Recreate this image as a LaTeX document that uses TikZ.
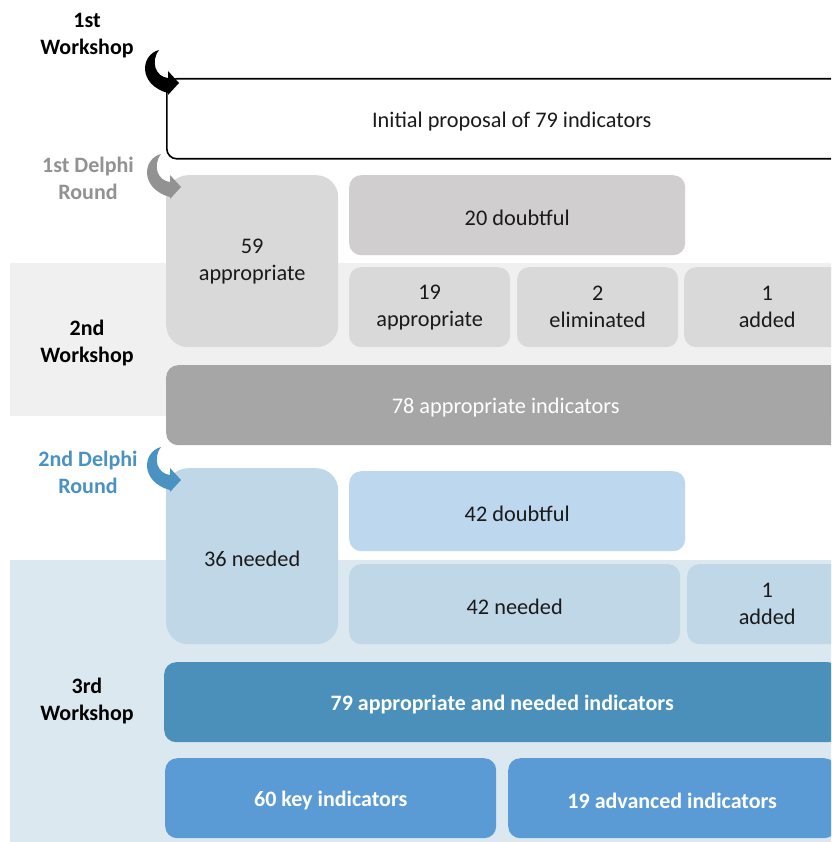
\documentclass[tikz,border=0pt]{standalone}
\usepackage{fontspec}
\setmainfont{Carlito}
\definecolor{bandgray}{HTML}{F0F0F0}
\definecolor{bandblue}{HTML}{DBE8F0}
\definecolor{gA}{HTML}{D9D9D9}
\definecolor{gB}{HTML}{D0CECE}
\definecolor{gC}{HTML}{A6A6A6}
\definecolor{bA}{HTML}{BFD7E6}
\definecolor{bB}{HTML}{BDD7EE}
\definecolor{bC}{HTML}{4A90BB}
\definecolor{bD}{HTML}{5B9BD5}
\definecolor{lgray}{HTML}{929292}
\definecolor{lblue}{HTML}{4A92C2}
\definecolor{txt}{HTML}{1A1A1A}
\tikzset{
  box/.style={rounded corners=12pt, minimum height=80pt, inner sep=0pt, align=center,
    font=\fontsize{22.3}{27}\selectfont, text=txt, anchor=north west,
    execute at begin node={\rule{0pt}{20.5pt}}},
  bigbox/.style={box, rounded corners=22pt},
  whitebold/.style={text=white, font=\fontsize{22}{27}\selectfont\bfseries},
  lbl/.style={align=center, font=\fontsize{22}{27}\selectfont\bfseries, yshift=-2pt},
  pics/curvarr/.style={code={
    \path[pic actions] (-20,-33) .. controls (-39,-28) and (-41,2) .. (-11,10)
      -- (-11,12) -- (0,0) -- (-11,-12) -- (-11,-5)
      .. controls (-23,-6) and (-29,-21) .. (-20,-33) -- cycle;
  }}
}
\begin{document}
\begin{tikzpicture}[x=1pt,y=-1pt]
\clip (0,0) rectangle (831,842);
\fill[white] (0,0) rectangle (831,842);
% bands
\fill[bandgray] (10,263) rectangle (840,416);
\fill[bandblue] (10,560) rectangle (840,850);

% labels
\node[lbl] (w1) at (87,33.5) {1st\\Workshop};
\node[lbl, text=lgray] (d1) at (88,176) {1st Delphi\\Round};
\node[lbl] (w2) at (87,341) {2nd\\Workshop};
\node[lbl, text=lblue] (d2) at (88,470) {2nd Delphi\\Round};
\node[lbl] (w3) at (87,699) {3rd\\Workshop};

% 1st workshop
\node[box, draw=black, line width=1.6pt, fill=white, rounded corners=10pt,
  minimum width=690pt, minimum height=80pt] (init) at (166,78) {Initial proposal of 79 indicators};

% 1st Delphi round
\node[bigbox, fill=gA, minimum width=172pt, minimum height=172pt] (a59) at (166,175) {59\\appropriate};
\node[box, fill=gB, minimum width=336pt] (d20) at (349,175) {20 doubtful};
\node[box, fill=gA, minimum width=161pt] (a19) at (349,267) {19\\appropriate};
\node[box, fill=gA, minimum width=161pt] (e2) at (517,267) {2\\eliminated};
\node[box, fill=gA, minimum width=166pt] (add1) at (684,267) {1\\added};

% 2nd workshop
\node[box, fill=gC, text=white, minimum width=679pt] (a78) at (166,365) {78 appropriate indicators};

% 2nd Delphi round
\node[bigbox, fill=bA, minimum width=172pt, minimum height=176pt] (n36) at (166,468) {36 needed};
\node[box, fill=bB, minimum width=336pt] (d42) at (349,471) {42 doubtful};
\node[box, fill=bA, minimum width=331pt] (n42) at (349,564) {42 needed};
\node[box, fill=bA, minimum width=160pt] (add2) at (687,564) {1\\added};

% 3rd workshop
\node[box, fill=bC, whitebold, minimum width=676pt] (a79) at (164,662) {79 appropriate and needed indicators};
\node[box, fill=bD, whitebold, minimum width=331pt] (k60) at (165,758) {60 key indicators};
\node[box, fill=bD, whitebold, minimum width=328pt] (v19) at (508,758) {19 advanced indicators};

% curved arrows
\pic[fill=black] (ar1) at (179,83) {curvarr};
\pic[fill=lgray] (ar2) at (181,187) {curvarr};
\pic[fill=lblue] (ar3) at (181,480) {curvarr};
\end{tikzpicture}
\end{document}
